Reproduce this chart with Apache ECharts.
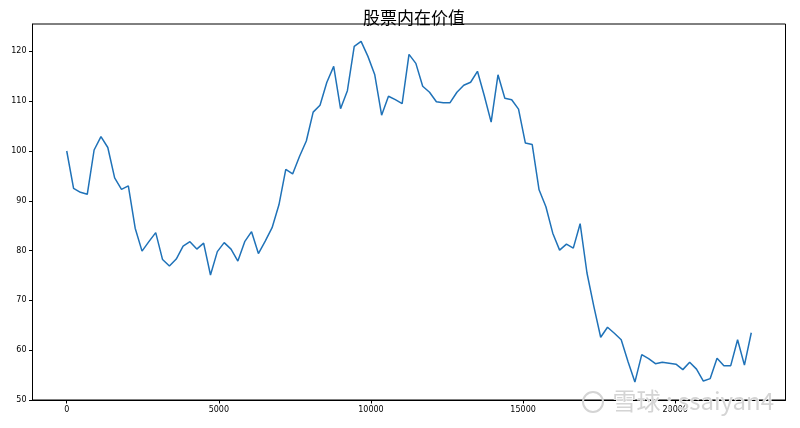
<!DOCTYPE html>
<html>
<head>
<meta charset="utf-8">
<script src="https://cdn.jsdelivr.net/npm/echarts@6/dist/echarts.min.js"></script>
<style>
html,body{margin:0;padding:0;background:#fff;}
#main{width:800px;height:428px;}
</style>
</head>
<body>
<div id="main"></div>
<script>
const titleText = '股票内在价值';
const xValues = [0,225,450,675,900,1125,1350,1575,1800,2025,2250,2475,2700,2925,3150,3375,3600,3825,4050,4275,
4500,4725,4950,5175,5400,5625,5850,6075,6300,6525,6750,6975,7200,7425,7650,7875,8100,8325,8550,8775,
9000,9225,9450,9675,9900,10125,10350,10575,10800,11025,11250,11475,11700,11925,12150,12375,12600,12825,13050,13275,
13500,13725,13950,14175,14400,14625,14850,15075,15300,15525,15750,15975,16200,16425,16650,16875,17100,17325,17550,17775,
18000,18225,18450,18675,18900,19125,19350,19575,19800,20025,20250,20475,20700,20925,21150,21375,21600,21825,22050,22275,22500];
const yValues = [100.0,92.5,91.7,91.3,100.2,102.9,100.7,94.6,92.3,93.0,
84.5,79.9,81.8,83.6,78.2,76.9,78.3,80.9,81.8,80.3,
81.5,75.1,79.8,81.6,80.3,77.9,81.8,83.8,79.4,81.9,
84.6,89.2,96.3,95.4,98.9,102.0,107.8,109.2,113.8,117.0,
108.5,112.1,121.0,122.0,119.0,115.3,107.2,111.0,110.3,109.5,
119.4,117.6,113.0,111.8,109.9,109.7,109.7,111.8,113.2,113.8,
116.0,111.1,105.8,115.3,110.6,110.3,108.4,101.6,101.3,92.2,
88.8,83.5,80.1,81.3,80.5,85.4,75.5,68.8,62.6,64.6,
63.4,62.1,57.7,53.6,59.1,58.3,57.3,57.6,57.4,57.2,
56.1,57.6,56.2,53.8,54.3,58.4,56.9,56.9,62.1,57.0,63.5];
const xTicks = [0,5000,10000,15000,20000];
const yTicks = [50,60,70,80,90,100,110,120];
const watermarkText = '雪球 : ssaiyan4';

const seriesData = xValues.map((x, i) => [x, yValues[i]]);

const chart = echarts.init(document.getElementById('main'), null, {renderer: 'canvas'});
function makeAxis(min, max, ticks) {
  return {
    type: 'value', min: min, max: max,
    axisLine: {show: true, onZero: false, lineStyle: {color: '#000', width: 1}},
    axisTick: {show: true, inside: false, length: 3.5, customValues: ticks, lineStyle: {color: '#000', width: 1}},
    axisLabel: {customValues: ticks, formatter: v => String(v), fontFamily: 'DejaVu Sans', fontSize: 8, color: '#000', margin: 6},
    splitLine: {show: false}
  };
}
chart.setOption({
  animation: false,
  backgroundColor: '#fff',
  title: {
    text: titleText,
    left: 409, top: 4, textAlign: 'center',
    textStyle: {fontFamily: 'Noto Sans CJK SC', fontSize: 17, fontWeight: 'normal', color: '#000'}
  },
  grid: {left: 32.5, right: 14.5, top: 24, bottom: 28, show: true, borderColor: '#000', borderWidth: 1},
  xAxis: makeAxis(-1125, 23625, xTicks),
  yAxis: makeAxis(50, 125.5, yTicks),
  series: [{
    type: 'line', data: seriesData, showSymbol: false, symbol: 'none',
    lineStyle: {color: '#1f72b8', width: 1.5}, clip: true
  }],
  graphic: [
    {type: 'circle', shape: {cx: 593, cy: 402, r: 10}, style: {fill: 'none', stroke: '#d4d4d4', lineWidth: 2}, z: 100},
    {type: 'text', left: 612, top: 388, style: {text: watermarkText, fontFamily: 'Noto Sans CJK SC', fontSize: 24, fill: '#d4d4d4', stroke: '#fff', lineWidth: 1}, z: 100}
  ]
});
</script>
</body>
</html>
